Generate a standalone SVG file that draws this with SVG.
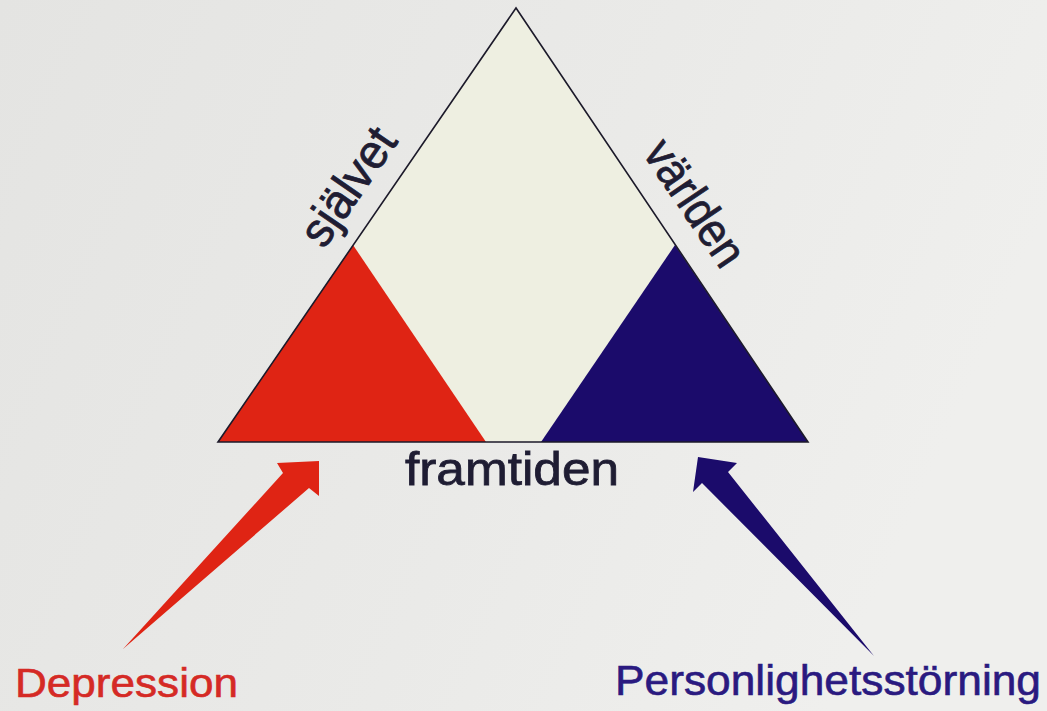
<svg xmlns="http://www.w3.org/2000/svg" width="1047" height="711" viewBox="0 0 1047 711">
  <defs>
    <linearGradient id="bg" x1="0" y1="0" x2="1" y2="0.3">
      <stop offset="0" stop-color="#e4e4e2"/>
      <stop offset="0.6" stop-color="#eaeae8"/>
      <stop offset="1" stop-color="#efefed"/>
    </linearGradient>
    <style>
      .lbl { font-family: "Liberation Sans", Arial, Helvetica, sans-serif; fill: #1f1d33; stroke: #1f1d33; stroke-width: 0.8; }
      .edge { fill: none; stroke: #1c1a2a; stroke-width: 1.6; stroke-linejoin: miter; }
      .red { fill: #df2414; }
      .blue { fill: #1b0b6b; }
    </style>
  </defs>

  <!-- paper background -->
  <rect x="0" y="0" width="1047" height="711" fill="url(#bg)"/>

  <!-- main triangle with its three sides -->
  <g id="triangle">
    <polygon points="516,8 218,442 808,442" fill="#eeefe1"/>
    <polygon id="corner-self" class="red" points="353,245 218,442 486,442"/>
    <polygon id="corner-world" class="blue" points="675,245 541,442 808,442"/>
    <polygon class="edge" points="516,8 218,442 808,442"/>
  </g>

  <!-- side labels -->
  <g id="label-sjalvet">
    <text class="lbl" font-size="48" transform="translate(324,250) rotate(-55.5)" textLength="132" lengthAdjust="spacingAndGlyphs">självet</text>
  </g>
  <g id="label-varlden">
    <text class="lbl" font-size="48" transform="translate(642,153) rotate(56)" textLength="142" lengthAdjust="spacingAndGlyphs">världen</text>
  </g>
  <g id="label-framtiden">
    <text class="lbl" font-size="47" x="405" y="485" textLength="214" lengthAdjust="spacingAndGlyphs">framtiden</text>
  </g>

  <!-- source nodes -->
  <g id="node-depression">
    <text font-family="Liberation Sans, Arial, sans-serif" font-size="41" fill="#d52a25" stroke="#d52a25" stroke-width="0.6" x="15" y="697" textLength="223" lengthAdjust="spacingAndGlyphs">Depression</text>
  </g>
  <g id="node-personlighet">
    <text font-family="Liberation Sans, Arial, sans-serif" font-size="42" fill="#2a1a80" stroke="#2a1a80" stroke-width="0.6" x="615" y="695" textLength="426" lengthAdjust="spacingAndGlyphs">Personlighetsstörning</text>
  </g>

  <!-- tapered arrows -->
  <g id="connectors">
    <polygon id="arrow-depression" class="red" points="123,649 283,473 277,463 319,461 319,496 309,488"/>
    <polygon id="arrow-personlighet" class="blue" points="874,656 702,483 693,492 698,457 737,463 728,472"/>
  </g>
</svg>
